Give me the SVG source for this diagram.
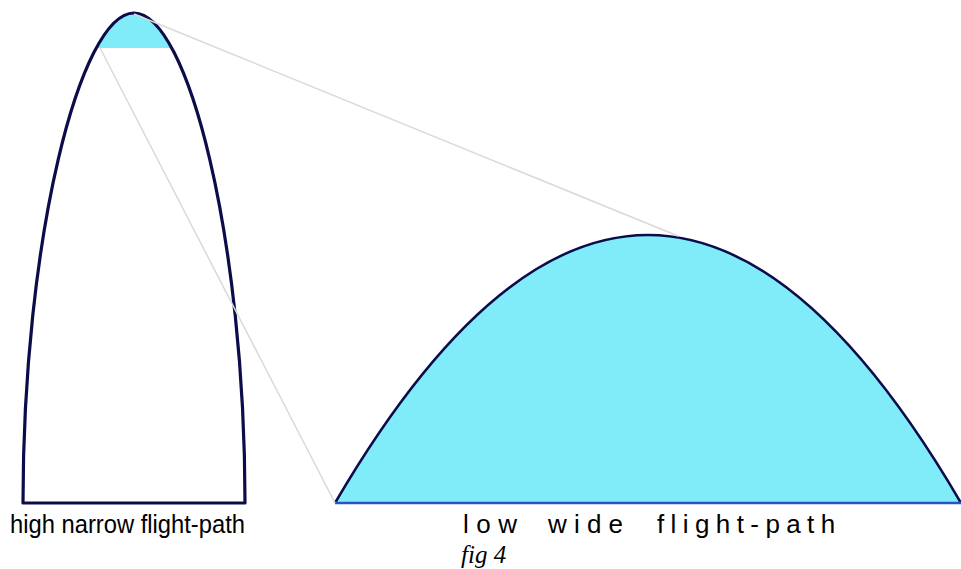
<svg xmlns="http://www.w3.org/2000/svg" width="961" height="569" viewBox="0 0 961 569">
  <style>
    .outline { fill: none; stroke: #0c0c4a; stroke-width: 3.2; stroke-linejoin: round; }
    .guide { stroke: #d9d9d9; stroke-width: 1.5; fill: none; }
    .label { font-family: "Liberation Sans", Arial, sans-serif; font-size: 26px; fill: #000; }
    .caption { font-family: "Liberation Serif", "Times New Roman", serif; font-style: italic; font-size: 25px; fill: #000; }
  </style>
  <defs>
    <clipPath id="leftClip">
      <path d="M23,503 C23,240 80,13 134,13 C188,13 245,240 245,503 Z"/>
    </clipPath>
  </defs>
  <rect width="961" height="569" fill="#ffffff"/>

  <g id="high-narrow-path">
    <path d="M23,503 C23,240 80,13 134,13 C188,13 245,240 245,503 Z" fill="#ffffff"/>
    <rect x="0" y="0" width="300" height="48" fill="#80ecfa" clip-path="url(#leftClip)"/>
    <path class="outline" d="M23,503 C23,240 80,13 134,13 C188,13 245,240 245,503 Z"/>
  </g>

  <g id="low-wide-path">
    <path d="M335,503 Q648,-33 961,503 Z" fill="#80ecfa"/>
    <path d="M335,503 Q648,-33 961,503" fill="none" stroke="#0c0c4a" stroke-width="2.5"/>
    <line x1="335" y1="503" x2="961" y2="503" stroke="#2a55c0" stroke-width="2.5"/>
  </g>

  <g id="connectors">
    <line class="guide" x1="134" y1="14" x2="678" y2="236"/>
    <line class="guide" x1="100" y1="48" x2="335" y2="503"/>
  </g>

  <g id="labels">
    <text class="label" x="10" y="533" textLength="235" lengthAdjust="spacingAndGlyphs">high narrow flight-path</text>
    <text class="label" y="533"><tspan x="463" letter-spacing="7.5">low</tspan><tspan x="548" letter-spacing="7.2">wide</tspan><tspan x="657" letter-spacing="6.4">flight-path</tspan></text>
    <text class="caption" x="461" y="563">fig 4</text>
  </g>
</svg>
